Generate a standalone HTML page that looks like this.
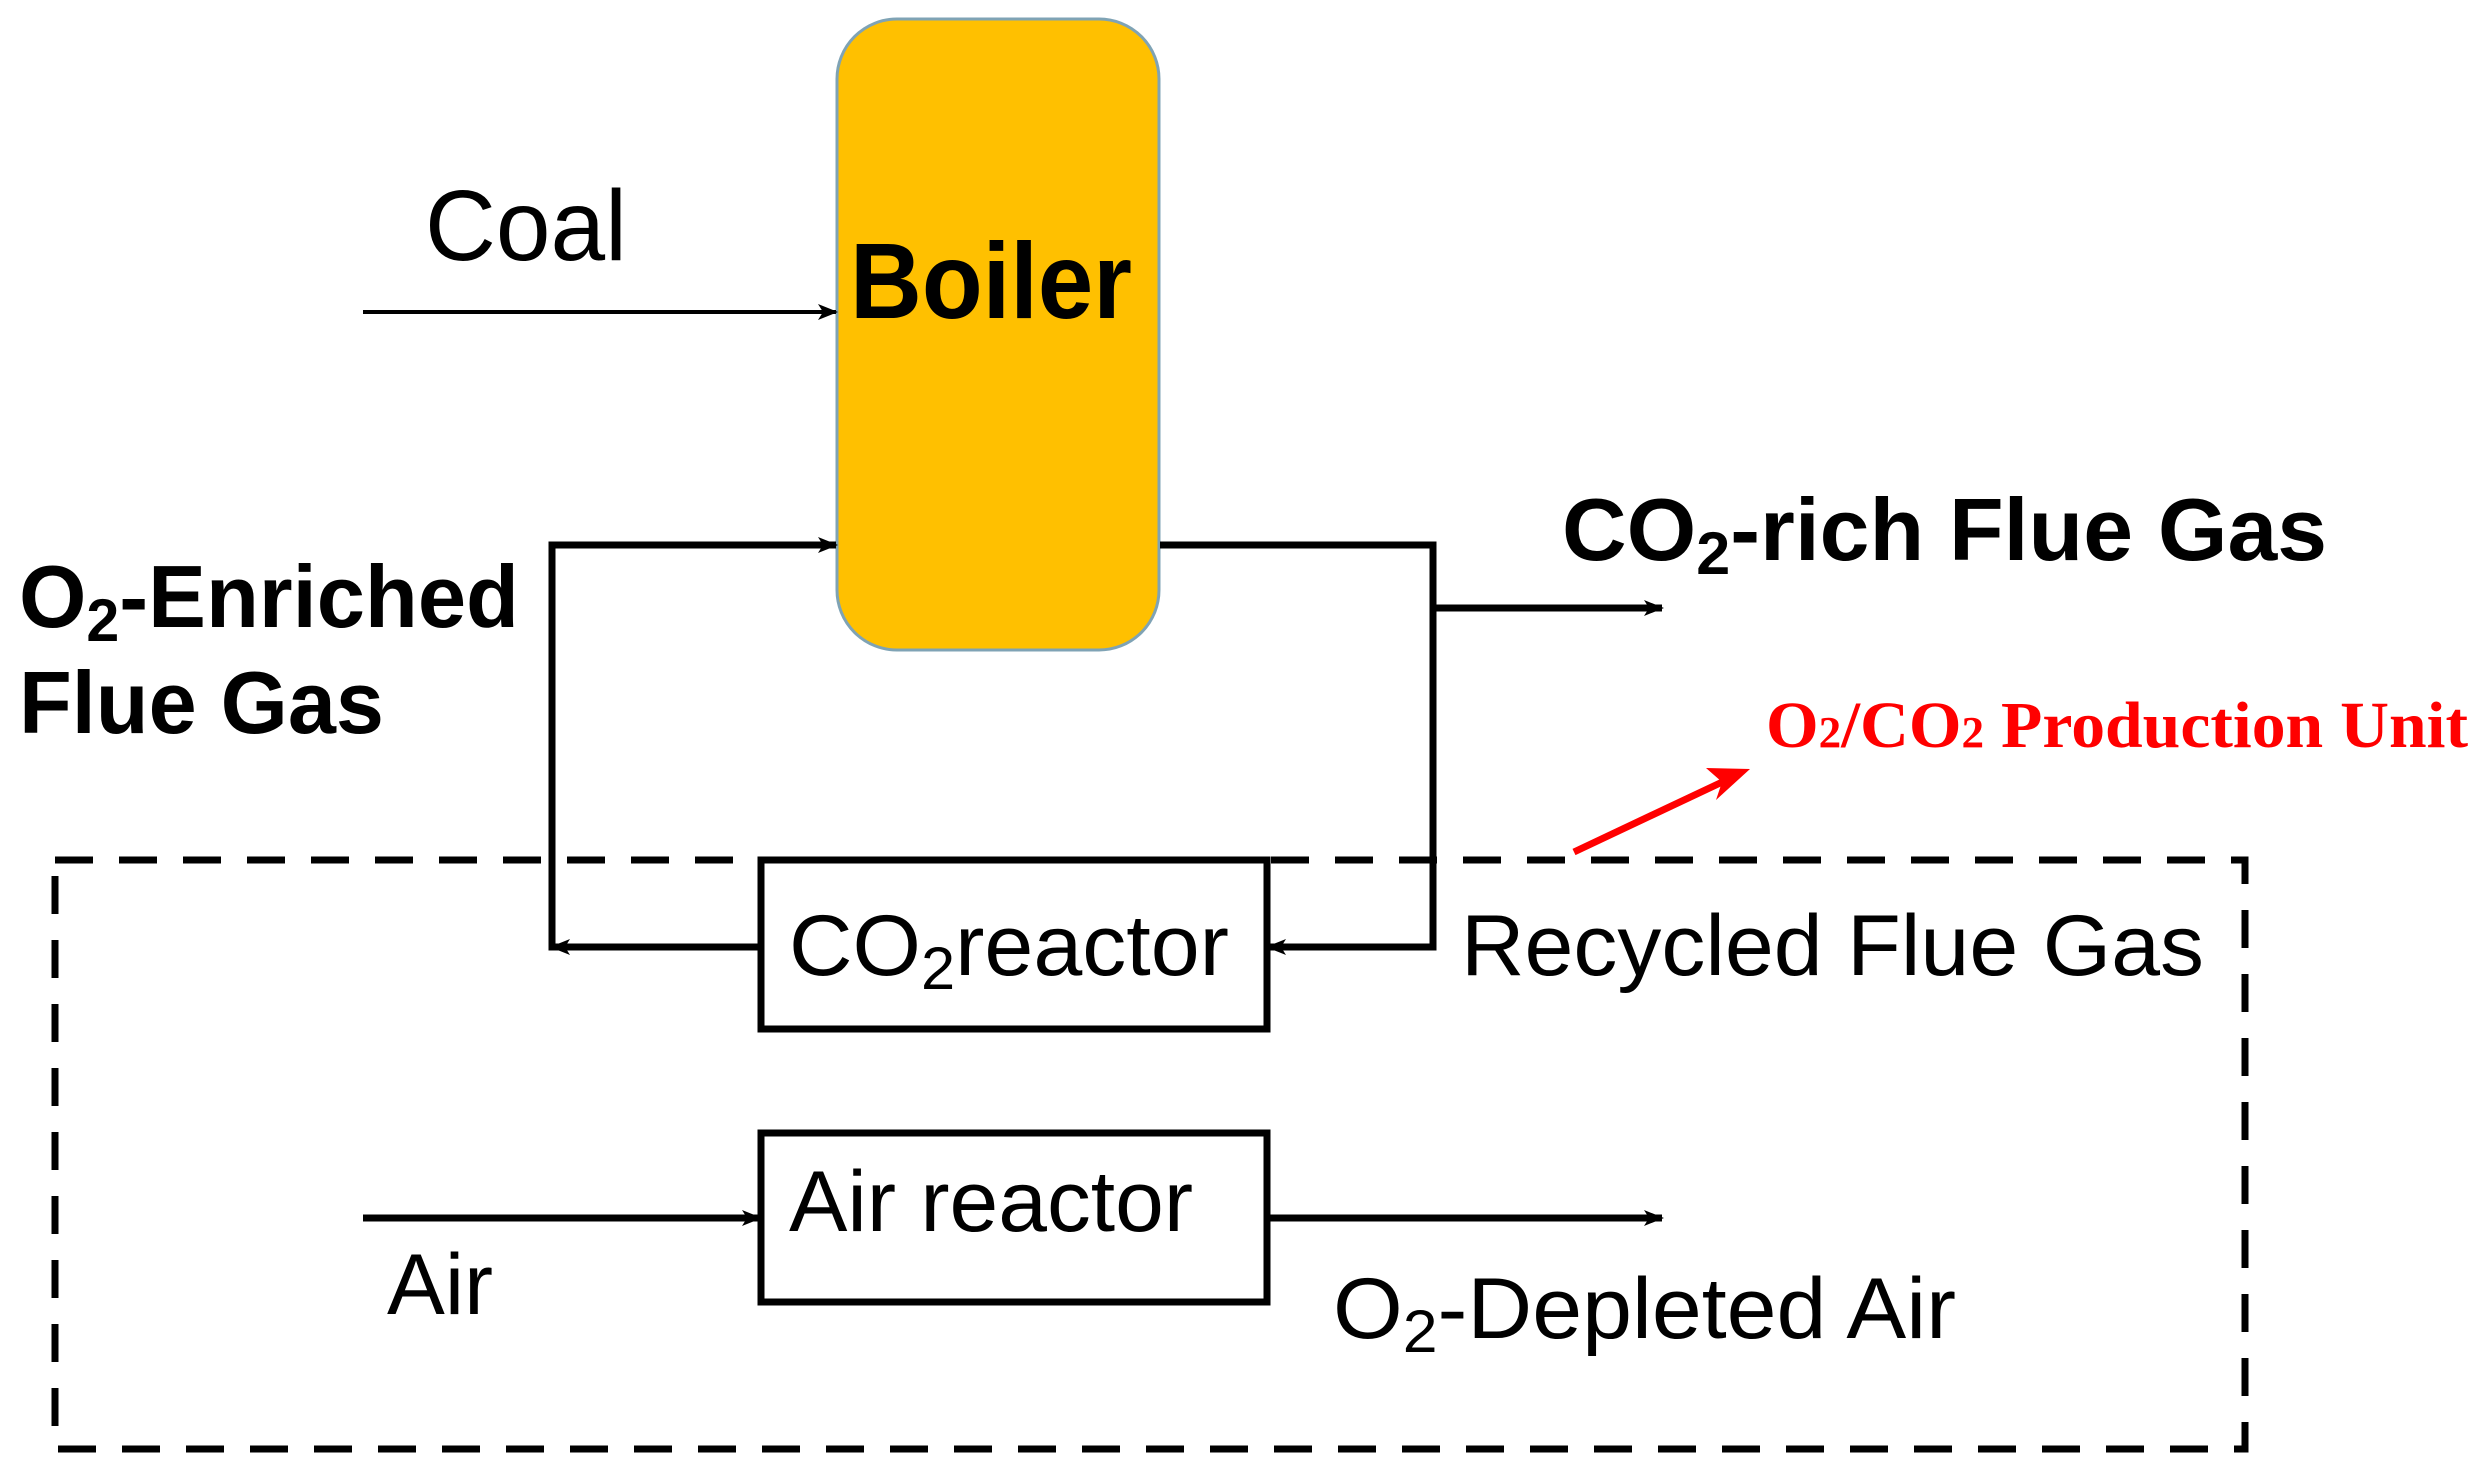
<!DOCTYPE html>
<html><head><meta charset="utf-8"><style>html,body{margin:0;padding:0;background:#fff}svg{display:block}</style></head>
<body>
<svg width="2474" height="1473" viewBox="0 0 2474 1473" xmlns="http://www.w3.org/2000/svg" font-family="'Liberation Sans', sans-serif">
<defs>
<marker id="b" markerWidth="20" markerHeight="16" refX="18" refY="8" orient="auto" markerUnits="userSpaceOnUse"><path d="M0,0 L20,8 L0,16 L5,8 Z" fill="#000"/></marker>
</defs>
<!-- Boiler -->
<rect x="837" y="19" width="322" height="631" rx="60" ry="60" fill="#FFC000" stroke="#7fa3b5" stroke-width="3"/>
<text x="991" y="318" font-size="108" font-weight="bold" text-anchor="middle" textLength="282" lengthAdjust="spacingAndGlyphs">Boiler</text>
<!-- Coal -->
<text x="425" y="260" font-size="100" textLength="202" lengthAdjust="spacingAndGlyphs">Coal</text>
<line x1="363" y1="312" x2="836" y2="312" stroke="#000" stroke-width="4" marker-end="url(#b)"/>
<!-- O2 enriched loop -->
<polyline points="761,947 552,947 552,545 836,545" fill="none" stroke="#000" stroke-width="7"/>
<line x1="700" y1="545" x2="836" y2="545" stroke="#000" stroke-width="7" marker-end="url(#b)"/>
<line x1="620" y1="947" x2="552" y2="947" stroke="#000" stroke-width="7" marker-end="url(#b)"/>
<!-- right loop -->
<polyline points="1160,545 1433,545 1433,947 1267,947" fill="none" stroke="#000" stroke-width="7"/>
<line x1="1350" y1="947" x2="1268" y2="947" stroke="#000" stroke-width="7" marker-end="url(#b)"/>
<line x1="1433" y1="608" x2="1662" y2="608" stroke="#000" stroke-width="7" marker-end="url(#b)"/>
<!-- dashed box -->
<rect x="55" y="860" width="2190" height="589" fill="none" stroke="#000" stroke-width="7" stroke-dasharray="38 26"/>
<!-- CO2 reactor -->
<rect x="761" y="860" width="506" height="169" fill="#fff" stroke="#000" stroke-width="7"/>
<text x="789" y="975" font-size="86" textLength="440" lengthAdjust="spacingAndGlyphs">CO<tspan font-size="60" dy="14">2</tspan><tspan dy="-14">reactor</tspan></text>
<!-- Air reactor -->
<rect x="761" y="1133" width="506" height="169" fill="#fff" stroke="#000" stroke-width="7"/>
<text x="789" y="1231" font-size="86" textLength="404" lengthAdjust="spacingAndGlyphs">Air reactor</text>
<line x1="363" y1="1218" x2="760" y2="1218" stroke="#000" stroke-width="7" marker-end="url(#b)"/>
<line x1="1267" y1="1218" x2="1662" y2="1218" stroke="#000" stroke-width="7" marker-end="url(#b)"/>
<text x="387" y="1314" font-size="86" textLength="106" lengthAdjust="spacingAndGlyphs">Air</text>
<text x="1333" y="1338" font-size="86" textLength="623" lengthAdjust="spacingAndGlyphs">O<tspan font-size="60" dy="14">2</tspan><tspan dy="-14">-Depleted Air</tspan></text>
<text x="1461" y="975" font-size="86" textLength="743" lengthAdjust="spacingAndGlyphs">Recycled Flue Gas</text>
<!-- bold labels -->
<text x="1562" y="560" font-size="88" font-weight="bold" textLength="765" lengthAdjust="spacingAndGlyphs">CO<tspan font-size="60" dy="14">2</tspan><tspan dy="-14">-rich Flue Gas</tspan></text>
<text x="19" y="627" font-size="88" font-weight="bold" textLength="500" lengthAdjust="spacingAndGlyphs">O<tspan font-size="60" dy="14">2</tspan><tspan dy="-14">-Enriched</tspan></text>
<text x="19" y="733" font-size="88" font-weight="bold" textLength="365" lengthAdjust="spacingAndGlyphs">Flue Gas</text>
<!-- red -->
<text x="1766" y="747" font-size="66" font-weight="bold" fill="#ff0000" font-family="'Liberation Serif', serif" textLength="702" lengthAdjust="spacingAndGlyphs">O<tspan font-size="44">2</tspan>/CO<tspan font-size="44">2</tspan> Production Unit</text>
<line x1="1574" y1="852" x2="1735" y2="776" stroke="#ff0000" stroke-width="7"/>
<path d="M1750,769 L1706,768 L1722,782 L1716,800 Z" fill="#ff0000"/>
</svg>
</body></html>
